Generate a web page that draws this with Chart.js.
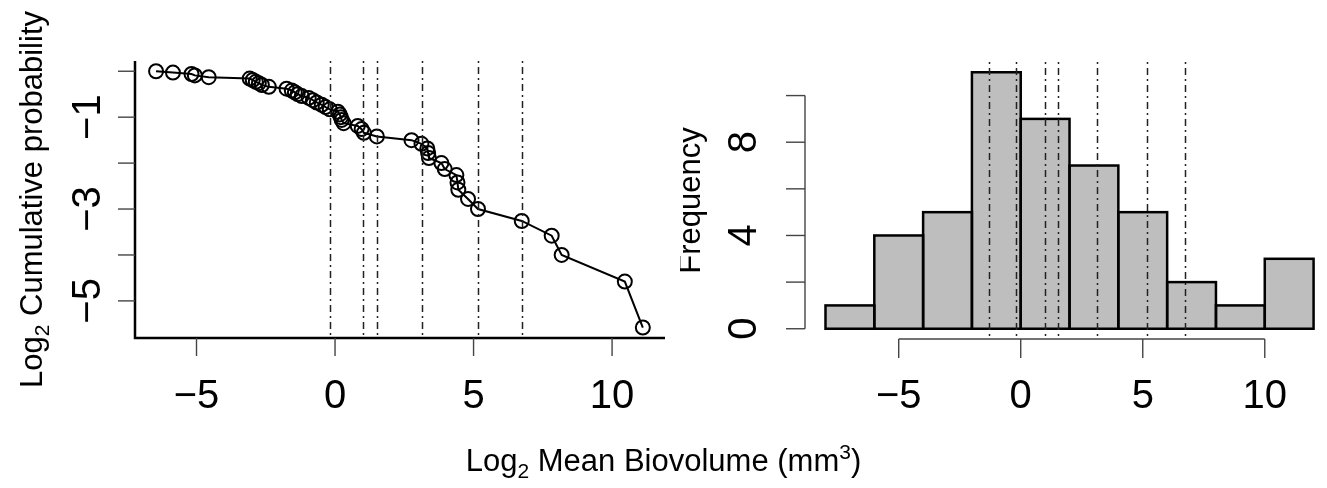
<!DOCTYPE html>
<html><head><meta charset="utf-8">
<script src="https://cdn.jsdelivr.net/npm/chart.js@4.4.1/dist/chart.umd.min.js"></script>
<style>
html,body{margin:0;padding:0;background:#fff;}
#wrap{position:relative;width:1327px;height:488px;overflow:hidden;background:#fff;}
canvas{position:absolute;top:0;}
#xtitle{position:absolute;left:0;width:1327px;top:446px;text-align:center;font-family:"Liberation Sans",Arial,Helvetica,sans-serif;font-size:31px;line-height:30px;color:#000;white-space:nowrap;}
#xtitle .sub{font-size:21px;position:relative;top:7px;}
#xtitle .sup{font-size:21px;position:relative;top:-12px;}
</style></head><body>
<div id="wrap">
<canvas id="left" width="680" height="488" style="left:0"></canvas>
<canvas id="right" width="647" height="488" style="left:680px"></canvas>
<div id="xtitle">Log<span class="sub">2</span> Mean Biovolume (mm<span class="sup">3</span>)</div>
</div>
<script>
// ---- data ----
const sizeX = [-6.46,-5.85,-5.18,-5.06,-4.56,-3.08,-2.97,-2.86,-2.75,-2.64,-2.39,-1.75,-1.56,-1.45,-1.35,-1.20,
  -0.95,-0.80,-0.66,-0.48,-0.34,-0.19,0.10,0.17,0.21,0.24,0.31,0.82,0.96,1.04,1.51,2.76,3.12,3.33,3.36,3.39,
  3.84,3.96,4.38,4.42,4.45,4.80,5.16,6.74,7.82,8.18,10.46,11.11];
const cumProb = [0,-0.03,-0.06,-0.09,-0.13,-0.16,-0.19,-0.23,-0.26,-0.30,-0.34,-0.38,-0.42,-0.46,-0.50,-0.54,
  -0.58,-0.63,-0.68,-0.73,-0.78,-0.83,-0.88,-0.94,-1.00,-1.06,-1.13,-1.19,-1.26,-1.34,-1.42,-1.50,-1.58,-1.68,
  -1.78,-1.89,-2.00,-2.13,-2.26,-2.42,-2.58,-2.78,-3.00,-3.26,-3.58,-4.00,-4.58,-5.58];
const histBinCenters = [-7,-5,-3,-1,1,3,5,7,9,11];
const histCounts = [1,4,5,11,9,7,5,2,1,3];
const refLinesLeft = [-0.18,1.00,1.51,3.13,5.17,6.75];
const refLinesRight = [-1.29,-0.18,1.00,1.51,3.13,5.17,6.75];
const xTicks = [-5,0,5,10];
const xTickLabels = ['\u22125','0','5','10'];
const cumTicks = [0,-1,-2,-3,-4,-5];
const cumTickLabels = ['','\u22121','','\u22123','','\u22125'];
const freqTicks = [0,2,4,6,8,10];
const freqTickLabels = ['0','','4','','8',''];

const FONT = '"Liberation Sans", Arial, Helvetica, sans-serif';
const TICKFONT = '40px ' + FONT;
const TITLEFONT = '31px ' + FONT;

function refLines(chart, values){
  const ctx = chart.ctx, xs = chart.scales.x, a = chart.chartArea;
  ctx.save();
  ctx.strokeStyle = '#222'; ctx.lineWidth = 1.5; ctx.setLineDash([2,4,7,4]);
  values.forEach(v => { const px = Math.round(xs.getPixelForValue(v)) + 0.5;
    ctx.beginPath(); ctx.moveTo(px, a.top); ctx.lineTo(px, a.bottom); ctx.stroke(); });
  ctx.restore();
}
function rotText(ctx, x, y, parts){
  ctx.save(); ctx.translate(x, y); ctx.rotate(-Math.PI/2);
  ctx.textBaseline = 'alphabetic'; ctx.textAlign = 'left'; ctx.fillStyle = '#000';
  let w = 0; parts.forEach(p => { ctx.font = p[1]; w += ctx.measureText(p[0]).width; });
  let cx = -w/2;
  parts.forEach(p => { ctx.font = p[1]; ctx.fillText(p[0], cx, p[2]); cx += ctx.measureText(p[0]).width; });
  ctx.restore();
}

const leftDecor = {
  id: 'leftDecor',
  afterDatasetsDraw(chart){
    const ctx = chart.ctx, xs = chart.scales.x, ys = chart.scales.y, a = chart.chartArea;
    ctx.save();
    ctx.strokeStyle = '#000'; ctx.lineWidth = 2.5; ctx.lineCap = 'butt'; ctx.lineJoin = 'miter';
    ctx.beginPath(); ctx.moveTo(a.left, a.top); ctx.lineTo(a.left, a.bottom); ctx.lineTo(a.right, a.bottom); ctx.stroke();
    ctx.strokeStyle = '#444'; ctx.lineWidth = 1.4;
    cumTicks.forEach(v => { const py = ys.getPixelForValue(v);
      ctx.beginPath(); ctx.moveTo(a.left, py); ctx.lineTo(a.left - 17, py); ctx.stroke(); });
    xTicks.forEach(v => { const px = xs.getPixelForValue(v);
      ctx.beginPath(); ctx.moveTo(px, a.bottom); ctx.lineTo(px, a.bottom + 18); ctx.stroke(); });
    ctx.restore();
    refLines(chart, refLinesLeft);
    ctx.save(); ctx.fillStyle = '#000'; ctx.font = TICKFONT; ctx.textAlign = 'center'; ctx.textBaseline = 'alphabetic';
    xTicks.forEach((v,i) => ctx.fillText(xTickLabels[i], xs.getPixelForValue(v), 408));
    ctx.restore();
    cumTicks.forEach((v,i) => { if (cumTickLabels[i]) rotText(ctx, 100, ys.getPixelForValue(v), [[cumTickLabels[i], TICKFONT, 0]]); });
    rotText(ctx, 42, (a.top + a.bottom)/2, [['Log', TITLEFONT, 0], ['2', '21px ' + FONT, 7], [' Cumulative probability', TITLEFONT, 0]]);
  }
};

new Chart(document.getElementById('left'), {
  type: 'line',
  data: { datasets: [{
    data: sizeX.map((x, i) => ({ x: x, y: cumProb[i] })),
    borderColor: '#000', borderWidth: 2, tension: 0, fill: false, clip: false,
    pointRadius: 7, pointBorderWidth: 2, pointBorderColor: '#000', pointBackgroundColor: 'rgba(0,0,0,0)'
  }]},
  options: {
    responsive: false, animation: false, devicePixelRatio: 1, events: [],
    layout: { padding: { left: 135, right: 15, top: 61, bottom: 150 } },
    scales: {
      x: { type: 'linear', min: -7.22, max: 11.91, display: false },
      y: { type: 'linear', min: -5.808, max: 0.223, display: false }
    },
    plugins: { legend: { display: false }, tooltip: { enabled: false } }
  },
  plugins: [leftDecor]
});

const rightDecor = {
  id: 'rightDecor',
  afterDatasetsDraw(chart){
    const ctx = chart.ctx, xs = chart.scales.x, ys = chart.scales.y, a = chart.chartArea;
    const meta = chart.getDatasetMeta(0);
    ctx.save();
    ctx.strokeStyle = '#000'; ctx.lineWidth = 2.5; ctx.lineJoin = 'miter';
    meta.data.forEach(bar => {
      const p = bar.getProps(['x','y','base','width'], true);
      ctx.strokeRect(p.x - p.width/2, p.y, p.width, p.base - p.y);
    });
    ctx.strokeStyle = '#444'; ctx.lineWidth = 1.4;
    const y0 = ys.getPixelForValue(freqTicks[0]), y1 = ys.getPixelForValue(freqTicks[freqTicks.length-1]);
    ctx.beginPath(); ctx.moveTo(a.left, y0); ctx.lineTo(a.left, y1); ctx.stroke();
    freqTicks.forEach(v => { const py = ys.getPixelForValue(v);
      ctx.beginPath(); ctx.moveTo(a.left, py); ctx.lineTo(a.left - 19, py); ctx.stroke(); });
    const x0 = xs.getPixelForValue(xTicks[0]), x1 = xs.getPixelForValue(xTicks[xTicks.length-1]);
    ctx.beginPath(); ctx.moveTo(x0, a.bottom); ctx.lineTo(x1, a.bottom); ctx.stroke();
    xTicks.forEach(v => { const px = xs.getPixelForValue(v);
      ctx.beginPath(); ctx.moveTo(px, a.bottom); ctx.lineTo(px, a.bottom + 19); ctx.stroke(); });
    ctx.restore();
    refLines(chart, refLinesRight);
    ctx.save(); ctx.fillStyle = '#000'; ctx.font = TICKFONT; ctx.textAlign = 'center'; ctx.textBaseline = 'alphabetic';
    xTicks.forEach((v,i) => ctx.fillText(xTickLabels[i], xs.getPixelForValue(v), 408));
    ctx.restore();
    freqTicks.forEach((v,i) => { if (freqTickLabels[i]) rotText(ctx, a.left - 49, ys.getPixelForValue(v), [[freqTickLabels[i], TICKFONT, 0]]); });
    rotText(ctx, a.left - 105, (a.top + a.bottom)/2, [['Frequency', TITLEFONT, 0]]);
  }
};

new Chart(document.getElementById('right'), {
  type: 'bar',
  data: { datasets: [{
    data: histBinCenters.map((x, i) => ({ x: x, y: histCounts[i] })),
    backgroundColor: '#BEBEBE', borderWidth: 0, barThickness: 'flex',
    barPercentage: 1, categoryPercentage: 1, clip: false
  }]},
  options: {
    responsive: false, animation: false, devicePixelRatio: 1, events: [],
    layout: { padding: { left: 125, right: 0, top: 62, bottom: 149 } },
    scales: {
      x: { type: 'linear', min: -8.84, max: 12.55, offset: false, display: false },
      y: { type: 'linear', min: -0.44, max: 11.44, display: false }
    },
    plugins: { legend: { display: false }, tooltip: { enabled: false } }
  },
  plugins: [rightDecor]
});
</script>
</body></html>
